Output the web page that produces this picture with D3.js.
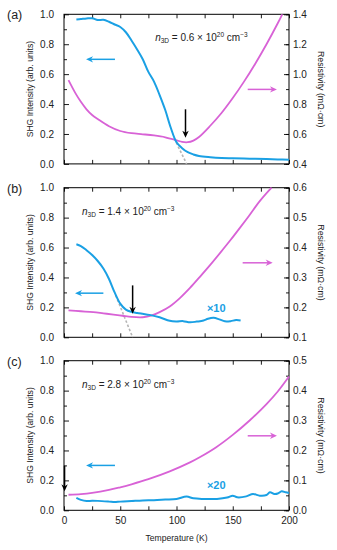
<!DOCTYPE html>
<html>
<head>
<meta charset="utf-8">
<script src="https://cdn.jsdelivr.net/npm/d3@7"></script>
<style>
  body { margin: 0; background: #fff; }
  svg { font-family: "Liberation Sans", Arial, sans-serif; }
</style>
</head>
<body>
<script>
// ---------------- data ----------------
// panel (a)  n3D = 0.6e20
const shgTa = [11, 15, 20, 25, 30, 35, 40, 45, 50, 55, 60, 65, 70, 75, 80, 85, 90, 95, 100, 105, 110, 115, 120, 130, 140, 150, 160, 170, 180, 190, 200]
const shgA = [0.965, 0.968, 0.972, 0.974, 0.962, 0.963, 0.95, 0.932, 0.915, 0.88, 0.825, 0.765, 0.7, 0.615, 0.55, 0.46, 0.36, 0.24, 0.145, 0.105, 0.078, 0.063, 0.053, 0.045, 0.04, 0.038, 0.036, 0.034, 0.032, 0.03, 0.028]
const resTa = [4, 10, 15, 20, 25, 30, 40, 50, 60, 70, 80, 90, 100, 105, 110, 115, 120, 130, 140, 150, 160, 170, 180, 190, 194]
const resA = [0.96, 0.875, 0.815, 0.765, 0.727, 0.7, 0.652, 0.62, 0.605, 0.598, 0.59, 0.578, 0.558, 0.547, 0.545, 0.556, 0.58, 0.655, 0.74, 0.84, 0.95, 1.07, 1.2, 1.34, 1.4]

// panel (b)  n3D = 1.4e20
const shgTb = [11, 15, 20, 25, 30, 35, 40, 45, 50, 55, 60, 65, 70, 76, 85, 94, 100, 106, 112, 118, 124, 128, 133, 138, 143, 148, 153, 157]
const shgB = [0.622, 0.61, 0.582, 0.55, 0.51, 0.46, 0.39, 0.3, 0.225, 0.185, 0.17, 0.163, 0.157, 0.15, 0.134, 0.11, 0.106, 0.108, 0.1, 0.105, 0.112, 0.124, 0.13, 0.12, 0.107, 0.108, 0.115, 0.112]
const resTb = [4, 15, 26, 35, 44, 52, 60, 70, 78, 85, 94, 103, 112, 121, 130, 139, 148, 156, 165, 174, 183, 184.5]
const resB = [0.19, 0.187, 0.184, 0.18, 0.176, 0.172, 0.168, 0.167, 0.173, 0.184, 0.203, 0.231, 0.265, 0.303, 0.342, 0.383, 0.425, 0.464, 0.509, 0.555, 0.594, 0.6]

// panel (c)  n3D = 2.8e20
const shgTc = [11, 15, 20, 25, 30, 40, 45, 50, 60, 70, 80, 90, 100, 109, 115, 124, 136, 145, 150, 154, 162, 168, 174, 180, 183, 187, 190, 193.5, 197, 200]
const shgC = [0.083, 0.07, 0.062, 0.064, 0.063, 0.058, 0.055, 0.058, 0.062, 0.066, 0.068, 0.072, 0.076, 0.092, 0.08, 0.076, 0.076, 0.085, 0.098, 0.087, 0.093, 0.109, 0.098, 0.102, 0.12, 0.109, 0.112, 0.127, 0.12, 0.116]
const resTc = [4, 15, 25, 40, 50, 60, 75, 94, 112, 121, 135, 150, 165, 180, 190, 200]
const resC = [0.052, 0.054, 0.058, 0.068, 0.077, 0.087, 0.104, 0.13, 0.16, 0.178, 0.21, 0.252, 0.3, 0.355, 0.397, 0.447]

// extrapolation (grey dashed) lines
const extrapT = [[98, 109], [46, 61], null]
const extrapV = [[0.17, 0], [0.28, 0], null]

// Tc markers (black arrows): T, start value, end value (left axis)
const tcT = [108, 61, 0.5]
const tcFrom = [0.365, 0.347, 0.298]
const tcTo = [0.175, 0.157, 0.127]

const panelLabels = ["(a)", "(b)", "(c)"]
const densities = ["0.6", "1.4", "2.8"]
const rightDomains = [[0.4, 1.4], [0.1, 0.6], [0, 0.5]]
const rightMajor = [0.2, 0.1, 0.1]
const rightMinor = [0.1, 0.05, 0.05]
const scaleNotes = [null, "×10", "×20"]

const xTicks = [0, 50, 100, 150, 200]
const xMinorTicks = [25, 75, 125, 175]
const leftTicks = [0, 0.2, 0.4, 0.6, 0.8, 1.0]
const leftMinorTicks = [0.1, 0.3, 0.5, 0.7, 0.9]

const blue = "#1aa0e4"
const pink = "#d862d6"

//----------------------------------------------------------------------------------------------
const W = 337, H = 550
const left = 64, right = 289
const tops = [14.3, 187.7, 360.7]
const ph = 149.6

const svg = d3.select("body").append("svg")
    .attr("width", W)
    .attr("height", H)

const x = d3.scaleLinear().domain([0, 200]).range([left, right])

const panels = [
    { shgT: shgTa, shg: shgA, resT: resTa, res: resA },
    { shgT: shgTb, shg: shgB, resT: resTb, res: resB },
    { shgT: shgTc, shg: shgC, resT: resTc, res: resC }
]

function arrowHead(g, x0, y0, dir, color) {
    // dir: "left" | "right" | "down"
    const L = 7, w = 3.2
    let pts
    if (dir == "left") pts = [[x0, y0], [x0 + L, y0 - w], [x0 + L * 0.7, y0], [x0 + L, y0 + w]]
    else if (dir == "right") pts = [[x0, y0], [x0 - L, y0 - w], [x0 - L * 0.7, y0], [x0 - L, y0 + w]]
    else pts = [[x0, y0], [x0 - w, y0 - L], [x0, y0 - L * 0.7], [x0 + w, y0 - L]]
    g.append("path")
        .attr("d", "M" + pts.map(p => p.join(",")).join("L") + "Z")
        .attr("fill", color)
}

panels.forEach((p, i) => {
    const top = tops[i], bottom = top + ph
    const yL = d3.scaleLinear().domain([0, 1]).range([bottom, top])
    const yR = d3.scaleLinear().domain(rightDomains[i]).range([bottom, top])
    const g = svg.append("g")

    // axes - ticks inward
    const axes = [
        { ax: d3.axisBottom(x).tickValues(xTicks).tickSize(-4).tickSizeOuter(0).tickPadding(7)
            .tickFormat(i == 2 ? d3.format("d") : ""), t: `translate(0,${bottom})` },
        { ax: d3.axisBottom(x).tickValues(xMinorTicks).tickSize(-4).tickSizeOuter(0).tickFormat(""), t: `translate(0,${bottom})` },
        { ax: d3.axisTop(x).tickValues(xTicks.concat(xMinorTicks)).tickSize(-4).tickSizeOuter(0).tickFormat(""), t: `translate(0,${top})` },
        { ax: d3.axisLeft(yL).tickValues(leftTicks).tickSize(-5).tickSizeOuter(0).tickPadding(10)
            .tickFormat(d3.format(".1f")), t: `translate(${left},0)` },
        { ax: d3.axisLeft(yL).tickValues(leftMinorTicks).tickSize(-3).tickSizeOuter(0).tickFormat(""), t: `translate(${left},0)` },
        { ax: d3.axisRight(yR).tickValues(d3.range(rightDomains[i][0], rightDomains[i][1] + 1e-6, rightMajor[i]))
            .tickSize(-5).tickSizeOuter(0).tickPadding(4).tickFormat(d3.format(".1f")), t: `translate(${right},0)` },
        { ax: d3.axisRight(yR).tickValues(d3.range(rightDomains[i][0], rightDomains[i][1] + 1e-6, rightMinor[i]))
            .tickSize(-3).tickSizeOuter(0).tickFormat(""), t: `translate(${right},0)` }
    ]
    axes.forEach(a => {
        const ag = g.append("g").attr("transform", a.t).call(a.ax)
        ag.select(".domain").remove()
        ag.selectAll(".tick line").attr("stroke", "#000").attr("stroke-width", 0.9)
        ag.selectAll("text").attr("font-size", 10).attr("fill", "#222")
            .attr("font-family", "Liberation Sans, Arial, sans-serif")
    })

    // frame
    g.append("rect")
        .attr("x", left).attr("y", top)
        .attr("width", right - left).attr("height", ph)
        .attr("fill", "none").attr("stroke", "#000").attr("stroke-width", 1)

    // axis titles
    g.append("text")
        .attr("transform", `translate(33,${(top + bottom) / 2}) rotate(-90)`)
        .attr("text-anchor", "middle")
        .attr("font-size", 8.6)
        .attr("fill", "#222")
        .text("SHG Intensity (arb. units)")
    g.append("text")
        .attr("transform", `translate(318,${(top + bottom) / 2}) rotate(90)`)
        .attr("text-anchor", "middle")
        .attr("font-size", 8.8)
        .attr("fill", "#222")
        .text("Resistivity (mΩ·cm)")

    // panel label
    g.append("text")
        .attr("x", 7).attr("y", top + 5)
        .attr("font-size", 12.5)
        .attr("fill", "#222")
        .text(panelLabels[i])

    // density annotation
    const ann = g.append("text")
        .attr("x", x(i == 0 ? 81 : 16)).attr("y", yL(0.82))
        .attr("font-size", 10)
        .attr("fill", "#222")
        .attr("xml:space", "preserve")
    ann.append("tspan").attr("font-style", "italic").text("n")
    ann.append("tspan").attr("font-size", 6.5).attr("dy", 2).text("3D")
    ann.append("tspan").attr("dy", -2).text(" = " + densities[i] + " × 10")
    ann.append("tspan").attr("font-size", 6.5).attr("dy", -4).text("20")
    ann.append("tspan").attr("dy", 4).text(" cm")
    ann.append("tspan").attr("font-size", 6.5).attr("dy", -4).text("−3")

    // extrapolation line
    if (extrapT[i]) {
        g.append("line")
            .attr("x1", x(extrapT[i][0])).attr("y1", yL(extrapV[i][0]))
            .attr("x2", x(extrapT[i][1])).attr("y2", yL(extrapV[i][1]))
            .attr("stroke", "#b5b5b5").attr("stroke-width", 1.6)
            .attr("stroke-dasharray", "2.5,2")
    }

    // curves
    g.append("path")
        .datum(p.resT.map((t, k) => [t, p.res[k]]))
        .attr("fill", "none").attr("stroke", pink).attr("stroke-width", 1.8)
        .attr("d", d3.line().x(d => x(d[0])).y(d => yR(d[1])).curve(d3.curveCatmullRom.alpha(0.5)))
    g.append("path")
        .datum(p.shgT.map((t, k) => [t, p.shg[k]]))
        .attr("fill", "none").attr("stroke", blue).attr("stroke-width", 2)
        .attr("d", d3.line().x(d => x(d[0])).y(d => yL(d[1])).curve(d3.curveCatmullRom.alpha(0.5)))

    // black Tc arrow
    g.append("line")
        .attr("x1", x(tcT[i])).attr("x2", x(tcT[i]))
        .attr("y1", yL(tcFrom[i])).attr("y2", yL(tcTo[i]) - 4)
        .attr("stroke", "#000").attr("stroke-width", 1.5)
    arrowHead(g, x(tcT[i]), yL(tcTo[i]), "down", "#000")

    // blue arrow pointing to left axis
    const by = i == 1 ? yL(0.295) : yL(i == 0 ? 0.699 : 0.3)
    const bx0 = i == 1 ? x(35) : x(45.3)
    const bx1 = i == 1 ? x(9.8) : x(19.6)
    g.append("line").attr("x1", bx0).attr("x2", bx1 + 4).attr("y1", by).attr("y2", by)
        .attr("stroke", blue).attr("stroke-width", 1.5)
    arrowHead(g, bx1, by, "left", blue)

    // pink arrow pointing to right axis
    const py = yL(0.498)
    const px0 = i == 1 ? x(158.8) : x(163.3)
    const px1 = i == 1 ? x(185.5) : x(189.3)
    g.append("line").attr("x1", px0).attr("x2", px1 - 4).attr("y1", py).attr("y2", py)
        .attr("stroke", pink).attr("stroke-width", 1.5)
    arrowHead(g, px1, py, "right", pink)

    // multiplier note
    if (scaleNotes[i]) {
        g.append("text")
            .attr("x", x(127)).attr("y", yL(i == 1 ? 0.168 : 0.145))
            .attr("font-size", 11).attr("font-weight", "bold")
            .attr("fill", blue)
            .text(scaleNotes[i])
    }
})

// x label
svg.append("text")
    .attr("x", (left + right) / 2).attr("y", 541)
    .attr("text-anchor", "middle")
    .attr("font-size", 8.6)
    .attr("fill", "#222")
    .text("Temperature (K)")
</script>
</body>
</html>
